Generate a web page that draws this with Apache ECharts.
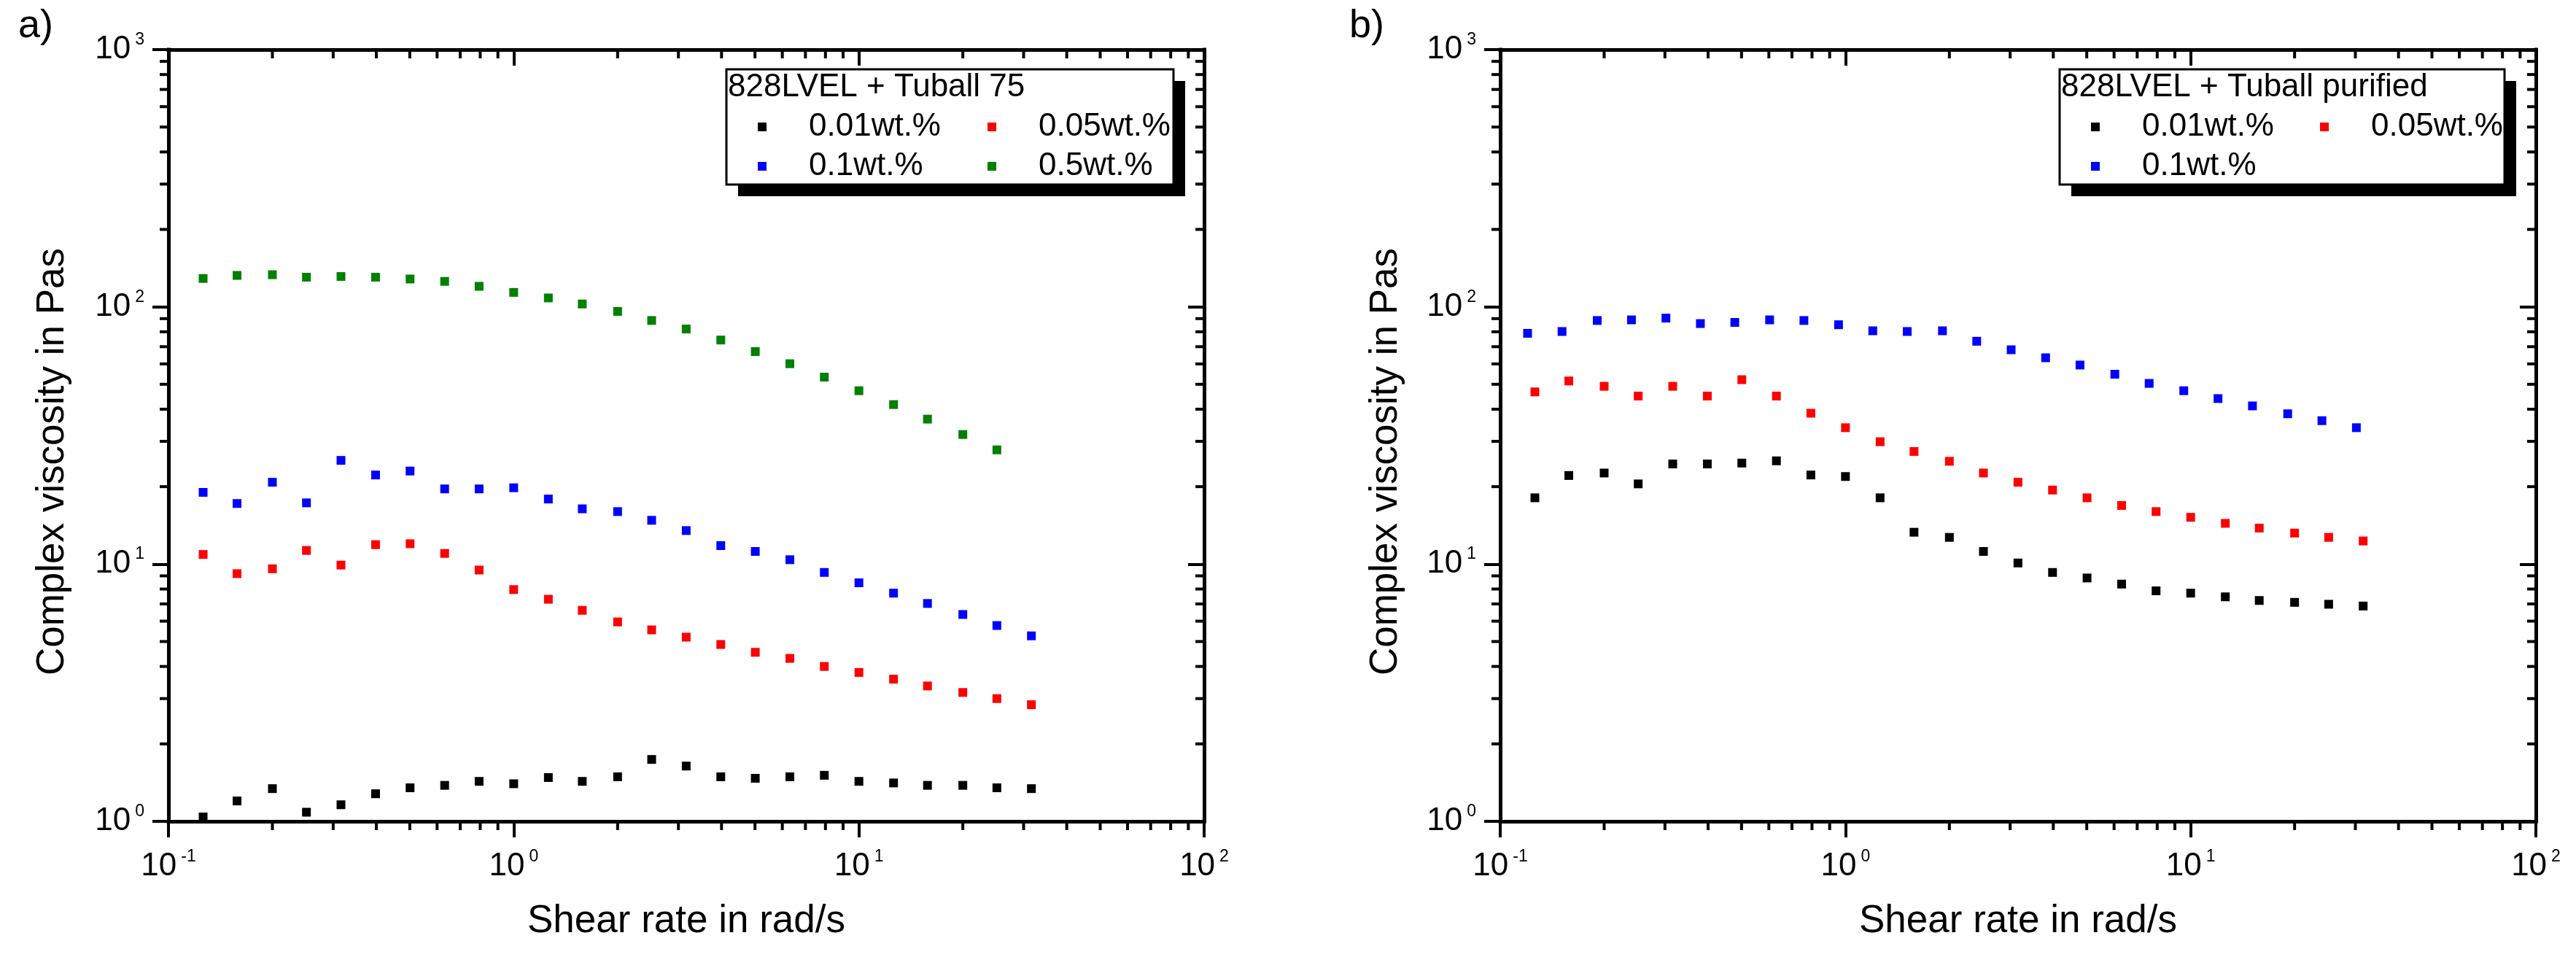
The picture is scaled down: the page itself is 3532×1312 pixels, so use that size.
<!DOCTYPE html>
<html>
<head>
<meta charset="utf-8">
<script src="https://cdn.jsdelivr.net/npm/echarts@6/dist/echarts.min.js"></script>
<style>
  html, body { margin: 0; padding: 0; background: #fff; }
  #chart { width: 3532px; height: 1312px; }
</style>
</head>
<body>
<div id="chart"></div>
<script>
const FONT = "'Liberation Sans', Arial, sans-serif";

// shear rate in rad/s
const shearRate = [0.126, 0.158, 0.2, 0.251, 0.316, 0.398, 0.501, 0.631, 0.794, 1.0,
  1.26, 1.58, 2.0, 2.51, 3.16, 3.98, 5.01, 6.31, 7.94, 10.0,
  12.6, 15.8, 20.0, 25.1, 31.6];
// the 0.1wt.% run in b) sits a little to the left
const shearRateB01 = [0.120, 0.151, 0.191, 0.240, 0.302, 0.380, 0.478, 0.603, 0.758, 0.955,
  1.20, 1.51, 1.91, 2.40, 3.02, 3.80, 4.78, 6.03, 7.58, 9.55,
  12.0, 15.1, 19.1, 24.0, 30.2];

// a) 828LVEL + Tuball 75, complex viscosity in Pas
const a001 = [1.04, 1.20, 1.34, 1.085, 1.16, 1.28, 1.35, 1.38, 1.43, 1.40, 1.48, 1.43, 1.49,
  1.74, 1.64, 1.49, 1.47, 1.49, 1.51, 1.43, 1.41, 1.38, 1.38, 1.35, 1.34];
const a005 = [10.9, 9.18, 9.59, 11.3, 9.91, 11.9, 12.0, 11.0, 9.48, 7.96, 7.30, 6.61, 5.96,
  5.55, 5.20, 4.87, 4.54, 4.30, 4.00, 3.79, 3.57, 3.36, 3.17, 3.00, 2.84];
const a01 = [19.0, 17.2, 20.8, 17.3, 25.3, 22.2, 23.0, 19.6, 19.6, 19.8, 17.9, 16.4, 16.0,
  14.8, 13.5, 11.8, 11.2, 10.4, 9.28, 8.46, 7.71, 7.03, 6.37, 5.77, 5.26];
const a05 = [128.9, 132.5, 133.3, 130.4, 131.2, 130.4, 128.3, 125.6, 120.2, 113.8, 108.3, 102.6,
  96.0, 88.5, 82.0, 74.3, 67.0, 60.1, 53.3, 47.2, 41.7, 36.6, 31.9, 27.8];

// b) 828LVEL + Tuball purified
const b001 = [18.1, 22.1, 22.6, 20.5, 24.5, 24.5, 24.7, 25.2, 22.2, 21.9, 18.1, 13.3, 12.7,
  11.2, 10.1, 9.28, 8.83, 8.36, 7.87, 7.71, 7.46, 7.22, 7.10, 6.98, 6.87];
const b005 = [46.7, 51.5, 49.1, 45.0, 49.1, 45.0, 52.1, 45.0, 38.6, 33.9, 29.9, 27.4, 25.1,
  22.6, 20.8, 19.4, 18.1, 16.9, 16.0, 15.2, 14.4, 13.8, 13.2, 12.7, 12.3];
const b01 = [78.9, 80.2, 88.5, 89.0, 90.4, 86.1, 87.0, 89.0, 88.5, 85.2, 80.7, 80.2, 80.7,
  73.5, 68.1, 63.4, 59.4, 54.7, 50.4, 47.2, 44.0, 41.2, 38.4, 36.1, 33.9];

const names = ['0.01wt.%', '0.05wt.%', '0.1wt.%', '0.5wt.%'];
const colors = ['#000000', '#ff0000', '#0000ff', '#008000'];
const legendTitles = ['828LVEL + Tuball 75', '828LVEL + Tuball purified'];
const xTitle = 'Shear rate in rad/s';
const yTitle = 'Complex viscosity in Pas';

const pairs = (xs, ys) => ys.map((y, i) => [xs[i], y]);

const chart = echarts.init(document.getElementById('chart'));

const tickLabel = {
  show: true,
  color: '#000',
  fontFamily: FONT,
  fontSize: 44,
  formatter: v => '{b|10}{s|' + Math.round(Math.log10(v)) + '}',
  rich: {
    b: { fontSize: 44, lineHeight: 50, fontFamily: FONT, color: '#000' },
    s: { fontSize: 23, lineHeight: 23, verticalAlign: 'top', fontFamily: FONT, color: '#000', padding: [0, 0, 0, 6] }
  }
};

function makeAxis(dim, gridIndex, pos) {
  const labelled = pos === 'bottom' || pos === 'left';
  const ax = {
    type: 'log',
    logBase: 10,
    gridIndex: gridIndex,
    position: pos,
    min: dim === 'x' ? 0.1 : 1,
    max: dim === 'x' ? 100 : 1000,
    axisLine: { show: true, onZero: false, lineStyle: { color: '#000', width: 5, cap: 'square' } },
    axisTick: { show: true, inside: !labelled, length: 22, lineStyle: { color: '#000', width: 4 } },
    axisLabel: labelled ? Object.assign({}, tickLabel, { margin: dim === 'x' ? 37 : 33 }) : { show: false },
    splitLine: { show: false },
    minorTick: { show: false },
    minorSplitLine: { show: false }
  };
  if (dim === 'x' && pos === 'bottom') {
    ax.name = xTitle;
    ax.nameLocation = 'middle';
    ax.nameGap = 111;
    ax.nameTextStyle = { fontSize: 53, lineHeight: 53, fontFamily: FONT, color: '#000' };
  }
  return ax;
}

function scatter(name, xs, ys, axisIndex, color) {
  return {
    name: name,
    type: 'scatter',
    xAxisIndex: axisIndex,
    yAxisIndex: axisIndex,
    data: pairs(xs, ys),
    symbol: 'rect',
    symbolSize: 12,
    itemStyle: { color: color, opacity: 1 },
    emphasis: { disabled: true }
  };
}

function legendCol(left, data) {
  return {
    orient: 'vertical',
    left: left,
    top: 152,
    padding: 0,
    itemGap: 10,
    itemWidth: 12,
    itemHeight: 12,
    icon: 'rect',
    selectedMode: false,
    data: data,
    itemStyle: { opacity: 1 },
    textStyle: { fontSize: 44, lineHeight: 44, fontFamily: FONT, color: '#000', padding: [0, 0, 0, 53] }
  };
}

const option = {
  animation: false,
  backgroundColor: '#fff',
  grid: [
    { left: 231, top: 68, width: 1420, height: 1058 },
    { left: 2057, top: 68, width: 1420, height: 1058 }
  ],
  xAxis: [makeAxis('x', 0, 'bottom'), makeAxis('x', 0, 'top'), makeAxis('x', 1, 'bottom'), makeAxis('x', 1, 'top')],
  yAxis: [makeAxis('y', 0, 'left'), makeAxis('y', 0, 'right'), makeAxis('y', 1, 'left'), makeAxis('y', 1, 'right')],
  title: [
    { text: legendTitles[0], left: 998, top: 98, padding: 0,
      textStyle: { fontSize: 44, lineHeight: 44, fontWeight: 'normal', fontFamily: FONT, color: '#000' } },
    { text: legendTitles[1], left: 2826, top: 98, padding: 0,
      textStyle: { fontSize: 44, lineHeight: 44, fontWeight: 'normal', fontFamily: FONT, color: '#000' } }
  ],
  legend: [
    legendCol(1039, [names[0], names[2]]),
    legendCol(1354, [names[1], names[3]]),
    legendCol(2867, [names[0], names[2]]),
    legendCol(3181, [names[1]])
  ],
  series: [
    scatter(names[0], shearRate, a001, 0, colors[0]),
    scatter(names[1], shearRate, a005, 0, colors[1]),
    scatter(names[2], shearRate, a01, 0, colors[2]),
    scatter(names[3], shearRate, a05, 0, colors[3]),
    scatter(names[0], shearRate, b001, 2, colors[0]),
    scatter(names[1], shearRate, b005, 2, colors[1]),
    scatter(names[2], shearRateB01, b01, 2, colors[2])
  ]
};

chart.setOption(option);

// extra drawing: legend frames, panel letters, y titles, log minor ticks
const g = [];
function txt(x, y, text, size, rot) {
  g.push({
    type: 'text', x: x, y: y, rotation: rot || 0, z: 20,
    style: {
      text: text, fontSize: size, fontFamily: FONT, fill: '#000',
      textAlign: 'center', align: 'center', textVerticalAlign: 'middle', verticalAlign: 'middle'
    }
  });
}
function frame(x, y, w, h) {
  g.push({ type: 'rect', z: 1, shape: { x: x + 16, y: y + 16, width: w, height: h }, style: { fill: '#000' } });
  g.push({ type: 'rect', z: 2, shape: { x: x, y: y, width: w, height: h }, style: { fill: '#fff', stroke: '#000', lineWidth: 3 } });
}
frame(996, 95, 613, 158);
frame(2824, 95, 610, 158);
g.push({ type: 'text', x: 25, y: 36, z: 20, style: { text: 'a)', fontSize: 54, fontFamily: FONT, fill: '#000', textVerticalAlign: 'middle', verticalAlign: 'middle' } });
g.push({ type: 'text', x: 1850, y: 36, z: 20, style: { text: 'b)', fontSize: 54, fontFamily: FONT, fill: '#000', textVerticalAlign: 'middle', verticalAlign: 'middle' } });
txt(72, 633, yTitle, 53, Math.PI / 2);
txt(1900, 633, yTitle, 53, Math.PI / 2);

const MINOR = 12;
function tick(x1, y1, x2, y2) {
  g.push({ type: 'line', z: 10, shape: { x1: x1, y1: y1, x2: x2, y2: y2 }, style: { stroke: '#000', lineWidth: 4 } });
}
[0, 2].forEach(ai => {
  const left = chart.convertToPixel({ xAxisIndex: ai }, 0.1);
  const right = chart.convertToPixel({ xAxisIndex: ai }, 100);
  const top = chart.convertToPixel({ yAxisIndex: ai }, 1000);
  const bottom = chart.convertToPixel({ yAxisIndex: ai }, 1);
  [0.1, 1, 10].forEach(d => {
    for (let m = 2; m <= 9; m++) {
      const px = chart.convertToPixel({ xAxisIndex: ai }, d * m);
      tick(px, bottom, px, bottom + MINOR);
      tick(px, top, px, top + MINOR);
    }
  });
  [1, 10, 100].forEach(d => {
    for (let m = 2; m <= 9; m++) {
      const py = chart.convertToPixel({ yAxisIndex: ai }, d * m);
      tick(left, py, left - MINOR, py);
      tick(right, py, right - MINOR, py);
    }
  });
});

chart.setOption({ graphic: g });
</script>
</body>
</html>
